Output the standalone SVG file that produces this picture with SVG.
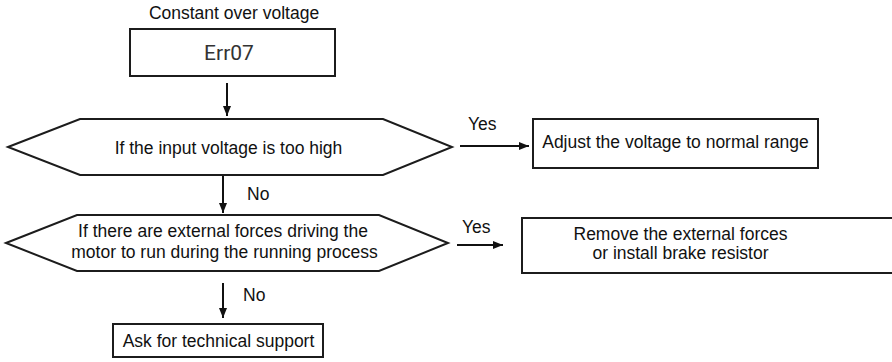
<svg xmlns="http://www.w3.org/2000/svg" width="892" height="362" viewBox="0 0 892 362">
  <defs>
    <marker id="arrow" markerWidth="10" markerHeight="12" refX="10" refY="4" orient="auto" markerUnits="userSpaceOnUse" viewBox="0 0 10 8">
      <path d="M0,0 L10,4 L0,8 Z" fill="#111"/>
    </marker>
    <style>
      .shape { fill: #fff; stroke: #1c1c1c; stroke-width: 2; }
      .lbl { font-family: "Liberation Sans", Arial, sans-serif; font-size: 17.5px; fill: #111; }
      .mid { text-anchor: middle; }
      .code { font-family: Roboto, "DejaVu Sans", sans-serif; font-size: 21px; fill: #333; text-anchor: middle; }
      .flow { fill: none; stroke: #111; stroke-width: 2; marker-end: url(#arrow); }
    </style>
  </defs>
  <rect width="892" height="362" fill="#fff"/>

  <g id="title">
    <text class="lbl mid" x="234" y="18.5">Constant over voltage</text>
  </g>

  <g id="err07">
    <rect class="shape" x="130" y="29" width="205" height="47"/>
    <text class="code" x="229" y="59.5">Err07</text>
  </g>

  <g id="check-input">
    <polygon class="shape" points="8,147 80,119 383,119 452,147 383,175 80,175"/>
    <text class="lbl mid" x="228.5" y="153.5">If the input voltage is too high</text>
  </g>

  <g id="adjust-voltage">
    <rect class="shape" x="533" y="119" width="285" height="49"/>
    <text class="lbl mid" x="675.5" y="148">Adjust the voltage to normal range</text>
  </g>

  <g id="check-external">
    <polygon class="shape" points="6,243 77,215 379,215 448,243 379,271 77,271"/>
    <text class="lbl mid" x="223" y="236.5">If there are external forces driving the</text>
    <text class="lbl mid" x="224.5" y="258">motor to run during the running process</text>
  </g>

  <g id="remove-forces">
    <rect class="shape" x="522" y="218" width="400" height="55"/>
    <text class="lbl mid" x="680.5" y="240">Remove the external forces</text>
    <text class="lbl mid" x="680.5" y="259">or install brake resistor</text>
  </g>

  <g id="support">
    <rect class="shape" x="113" y="324" width="210" height="33"/>
    <text class="lbl mid" x="218.5" y="347">Ask for technical support</text>
  </g>

  <g id="connectors">
    <line class="flow" x1="227" y1="83" x2="227" y2="116"/>
    <line class="flow" x1="460" y1="146" x2="529" y2="146"/>
    <text class="lbl" x="468" y="130">Yes</text>
    <line class="flow" x1="223" y1="176" x2="223" y2="213"/>
    <text class="lbl" x="247" y="200">No</text>
    <line class="flow" x1="457" y1="245" x2="503" y2="245"/>
    <text class="lbl" x="462" y="233">Yes</text>
    <line class="flow" x1="223" y1="283" x2="223" y2="318"/>
    <text class="lbl" x="243" y="301">No</text>
  </g>
</svg>
